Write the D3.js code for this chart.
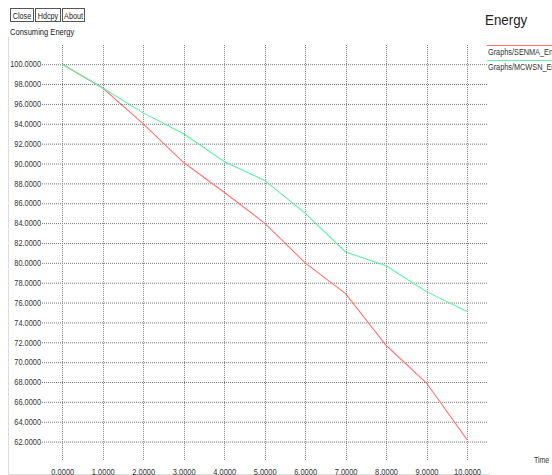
<!DOCTYPE html>
<html><head><meta charset="utf-8">
<script src="https://cdn.jsdelivr.net/npm/d3@7"></script>
<style>
html,body{margin:0;padding:0;background:#fff;}
svg{display:block;font-family:"Liberation Sans",Arial,sans-serif;}
</style></head><body>
<svg id="c" width="552" height="475"></svg>
<script>
const times = [0,1,2,3,4,5,6,7,8,9,10];
const senma = [100,97.6,94.0,90.1,87.1,84.0,80.0,76.9,71.7,67.9,62.2];
const mcwsn = [100,97.6,95.1,93.0,90.2,88.3,85.0,81.1,79.7,77.1,75.1];
const yTicks = [100,98,96,94,92,90,88,86,84,82,80,78,76,74,72,70,68,66,64,62];
const xTicks = [0,1,2,3,4,5,6,7,8,9,10];
const seriesNames = ["Graphs/SENMA_Energy","Graphs/MCWSN_Energy"];
const seriesColors = ["#ff7474","#62eea6"];
const buttons = ["Close","Hdcpy","About"];

const svg = d3.select("#c");
const x = d3.scaleLinear().domain([0,10]).range([62.3,467]);
const y = d3.scaleLinear().domain([62,100]).range([441.6,64.2]);

function cond(sel, f){
  sel.each(function(){
    const l = this.getComputedTextLength();
    d3.select(this).attr("textLength", l*f).attr("lengthAdjust","spacingAndGlyphs");
  });
}

// panel border
svg.append("line").attr("x1",8.5).attr("x2",8.5).attr("y1",37).attr("y2",474.5).attr("stroke","#ddd");
svg.append("line").attr("x1",8.5).attr("x2",490).attr("y1",474.5).attr("y2",474.5).attr("stroke","#ddd");

// buttons
let bx = 10;
const bw = [23,25,22];
buttons.forEach((b,i)=>{
  svg.append("rect").attr("x",bx+0.5).attr("y",8.5).attr("width",bw[i]).attr("height",13)
    .attr("fill","#fff").attr("stroke","#555");
  const t = svg.append("text").attr("x",bx+0.5+bw[i]/2).attr("y",18.5).attr("text-anchor","middle")
    .attr("font-size",9).attr("fill","#222").text(b);
  cond(t, 0.8);
  bx += bw[i]+2;
});
cond(svg.append("text").attr("x",10).attr("y",35).attr("font-size",9).attr("fill","#222").text("Consuming Energy"), 0.84);

// title
cond(svg.append("text").attr("x",485).attr("y",25).attr("font-size",15.5).attr("fill","#222").text("Energy"), 0.86);

// horizontal gridlines (axis)
const yAxis = d3.axisLeft(y).tickValues(yTicks).tickFormat(d3.format(".4f"))
  .tickSize(-(487-42)).tickPadding(1);
const gy = svg.append("g").attr("transform","translate(42,0)").call(yAxis);
gy.select(".domain").remove();
gy.selectAll(".tick line").attr("stroke","#777").attr("stroke-dasharray","1,1");
const yt = gy.selectAll(".tick text").attr("font-size",8.5).attr("fill","#333");
cond(yt, 0.87);

// x axis labels
const xAxis = d3.axisBottom(x).tickValues(xTicks).tickFormat(d3.format(".4f"))
  .tickSize(0).tickPadding(0);
const gx = svg.append("g").attr("transform","translate(0,475)").call(xAxis);
gx.select(".domain").remove();
const xt = gx.selectAll(".tick text").attr("dy",0).attr("y",-0.5).attr("font-size",8.5).attr("fill","#333");
cond(xt, 0.88);

// vertical gridlines
svg.append("g").selectAll("line").data(xTicks).join("line")
  .attr("x1",d=>Math.round(x(d))+0.5).attr("x2",d=>Math.round(x(d))+0.5)
  .attr("y1",45).attr("y2",460).attr("stroke","#888").attr("stroke-dasharray","1,1");

cond(svg.append("text").attr("x",534).attr("y",463).attr("font-size",8.5).attr("fill","#333").text("Time"), 0.82);

// lines
const line = d3.line().x((d,i)=>x(times[i])).y(d=>y(d));
[senma, mcwsn].forEach((s,i)=>{
  svg.append("path").datum(s).attr("d",line).attr("fill","none")
    .attr("stroke",seriesColors[i]).attr("stroke-width",1.1);
});

// legend
seriesNames.forEach((n,i)=>{
  const ly = 45.5 + i*15;
  svg.append("line").attr("x1",487).attr("x2",552).attr("y1",ly).attr("y2",ly)
    .attr("stroke",seriesColors[i]).attr("stroke-width",1);
  cond(svg.append("text").attr("x",488).attr("y",ly+9.5).attr("font-size",8.5).attr("fill","#333").text(n), 0.86);
});
</script>
</body></html>
